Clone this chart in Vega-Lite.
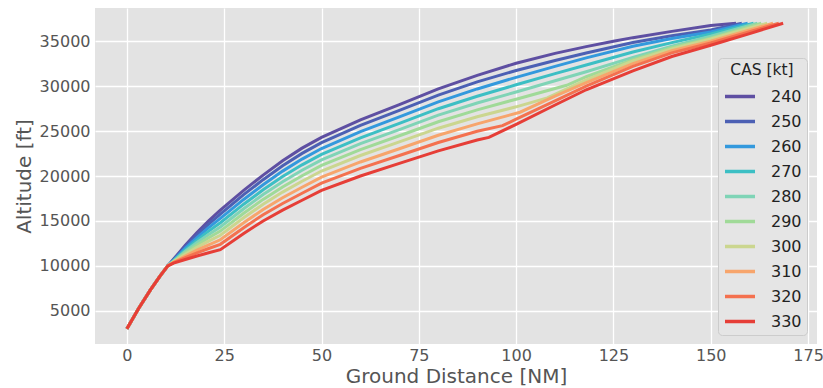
{
  "$schema": "https://vega.github.io/schema/vega-lite/v6.json",
  "width": 722,
  "height": 336,
  "autosize": {"type": "none"},
  "padding": {"left": 95, "top": 8, "right": 6, "bottom": 44},
  "background": "#ffffff",
  "config": {
    "view": {"stroke": null, "fill": "#e3e3e3"},
    "font": "DejaVu Sans",
    "axis": {
      "domain": false,
      "ticks": false,
      "grid": true,
      "gridColor": "#ffffff",
      "gridWidth": 1.3,
      "labelFont": "DejaVu Sans",
      "labelFontSize": 16,
      "labelColor": "#555555",
      "titleFont": "DejaVu Sans",
      "titleFontSize": 20,
      "titleFontWeight": "normal",
      "titleColor": "#555555"
    },
    "legend": {
      "labelFont": "DejaVu Sans",
      "titleFont": "DejaVu Sans"
    }
  },
  "data": {
    "values": [
      {"c":240,"d":0,"a":3000},{"c":240,"d":3,"a":5250},{"c":240,"d":6,"a":7300},{"c":240,"d":8.5,"a":8850},{"c":240,"d":10.5,"a":10000},{"c":240,"d":12,"a":10750},{"c":240,"d":15,"a":12300},{"c":240,"d":18,"a":13700},{"c":240,"d":21,"a":15000},{"c":240,"d":24,"a":16200},{"c":240,"d":30,"a":18400},{"c":240,"d":35,"a":20100},{"c":240,"d":40,"a":21700},{"c":240,"d":45,"a":23100},{"c":240,"d":50,"a":24300},{"c":240,"d":60,"a":26250},{"c":240,"d":70,"a":27950},{"c":240,"d":80,"a":29700},{"c":240,"d":90,"a":31200},{"c":240,"d":100,"a":32550},{"c":240,"d":110,"a":33650},{"c":240,"d":118,"a":34400},{"c":240,"d":125,"a":35000},{"c":240,"d":130,"a":35400},{"c":240,"d":140,"a":36100},{"c":240,"d":150,"a":36750},{"c":240,"d":156.5,"a":37000},
      {"c":250,"d":0,"a":3000},{"c":250,"d":3,"a":5250},{"c":250,"d":6,"a":7300},{"c":250,"d":8.5,"a":8850},{"c":250,"d":10.5,"a":10000},{"c":250,"d":12,"a":10660},{"c":250,"d":15,"a":12140},{"c":250,"d":18,"a":13440},{"c":250,"d":21,"a":14645},{"c":250,"d":24,"a":15760},{"c":250,"d":30,"a":17920},{"c":250,"d":35,"a":19590},{"c":250,"d":40,"a":21150},{"c":250,"d":45,"a":22520},{"c":250,"d":50,"a":23710},{"c":250,"d":60,"a":25625},{"c":250,"d":70,"a":27295},{"c":250,"d":80,"a":29010},{"c":250,"d":90,"a":30480},{"c":250,"d":100,"a":31750},{"c":250,"d":110,"a":32850},{"c":250,"d":118,"a":33700},{"c":250,"d":130,"a":34850},{"c":250,"d":140,"a":35600},{"c":250,"d":150,"a":36250},{"c":250,"d":158,"a":37000},
      {"c":260,"d":0,"a":3000},{"c":260,"d":3,"a":5250},{"c":260,"d":6,"a":7300},{"c":260,"d":8.5,"a":8850},{"c":260,"d":10.5,"a":10000},{"c":260,"d":12,"a":10616},{"c":260,"d":15,"a":11964},{"c":260,"d":18,"a":13154},{"c":260,"d":21,"a":14255},{"c":260,"d":24,"a":15276},{"c":260,"d":30,"a":17392},{"c":260,"d":35,"a":19029},{"c":260,"d":40,"a":20545},{"c":260,"d":45,"a":21882},{"c":260,"d":50,"a":23061},{"c":260,"d":60,"a":24938},{"c":260,"d":70,"a":26575},{"c":260,"d":80,"a":28250},{"c":260,"d":90,"a":29690},{"c":260,"d":100,"a":30980},{"c":260,"d":110,"a":32200},{"c":260,"d":118,"a":33150},{"c":260,"d":130,"a":34450},{"c":260,"d":140,"a":35300},{"c":260,"d":150,"a":36030},{"c":260,"d":159.5,"a":37000},
      {"c":270,"d":0,"a":3000},{"c":270,"d":3,"a":5250},{"c":270,"d":6,"a":7300},{"c":270,"d":8.5,"a":8850},{"c":270,"d":10.5,"a":10000},{"c":270,"d":12,"a":10572},{"c":270,"d":15,"a":11788},{"c":270,"d":18,"a":12868},{"c":270,"d":21,"a":13864},{"c":270,"d":24,"a":14792},{"c":270,"d":30,"a":16864},{"c":270,"d":35,"a":18468},{"c":270,"d":40,"a":19940},{"c":270,"d":45,"a":21244},{"c":270,"d":50,"a":22412},{"c":270,"d":60,"a":24250},{"c":270,"d":70,"a":25854},{"c":270,"d":80,"a":27490},{"c":270,"d":90,"a":28880},{"c":270,"d":100,"a":30150},{"c":270,"d":110,"a":31400},{"c":270,"d":118,"a":32350},{"c":270,"d":130,"a":33800},{"c":270,"d":140,"a":34850},{"c":270,"d":150,"a":35800},{"c":270,"d":161,"a":37000},
      {"c":280,"d":0,"a":3000},{"c":280,"d":3,"a":5250},{"c":280,"d":6,"a":7300},{"c":280,"d":8.5,"a":8850},{"c":280,"d":10.5,"a":10000},{"c":280,"d":12,"a":10530},{"c":280,"d":15,"a":11620},{"c":280,"d":18,"a":12595},{"c":280,"d":21,"a":13491},{"c":280,"d":24,"a":14330},{"c":280,"d":30,"a":16360},{"c":280,"d":35,"a":17933},{"c":280,"d":40,"a":19363},{"c":280,"d":45,"a":20635},{"c":280,"d":50,"a":21793},{"c":280,"d":60,"a":23594},{"c":280,"d":70,"a":25166},{"c":280,"d":80,"a":26770},{"c":280,"d":90,"a":28120},{"c":280,"d":100,"a":29350},{"c":280,"d":110,"a":30600},{"c":280,"d":118,"a":31600},{"c":280,"d":130,"a":33200},{"c":280,"d":140,"a":34450},{"c":280,"d":150,"a":35550},{"c":280,"d":162,"a":37000},
      {"c":290,"d":0,"a":3000},{"c":290,"d":3,"a":5250},{"c":290,"d":6,"a":7300},{"c":290,"d":8.5,"a":8850},{"c":290,"d":10.5,"a":10000},{"c":290,"d":12,"a":10488},{"c":290,"d":15,"a":11452},{"c":290,"d":18,"a":12322},{"c":290,"d":21,"a":13119},{"c":290,"d":24,"a":13868},{"c":290,"d":30,"a":15856},{"c":290,"d":35,"a":17397},{"c":290,"d":40,"a":18785},{"c":290,"d":45,"a":20026},{"c":290,"d":50,"a":21173},{"c":290,"d":60,"a":22938},{"c":290,"d":70,"a":24479},{"c":290,"d":80,"a":26040},{"c":290,"d":90,"a":27360},{"c":290,"d":100,"a":28550},{"c":290,"d":113,"a":30100},{"c":290,"d":118,"a":31050},{"c":290,"d":130,"a":32950},{"c":290,"d":140,"a":34300},{"c":290,"d":150,"a":35350},{"c":290,"d":163,"a":37000},
      {"c":300,"d":0,"a":3000},{"c":300,"d":3,"a":5250},{"c":300,"d":6,"a":7300},{"c":300,"d":8.5,"a":8850},{"c":300,"d":10.5,"a":10000},{"c":300,"d":12,"a":10446},{"c":300,"d":15,"a":11284},{"c":300,"d":18,"a":12049},{"c":300,"d":21,"a":12746},{"c":300,"d":24,"a":13406},{"c":300,"d":30,"a":15352},{"c":300,"d":35,"a":16862},{"c":300,"d":40,"a":18208},{"c":300,"d":45,"a":19417},{"c":300,"d":50,"a":20554},{"c":300,"d":60,"a":22281},{"c":300,"d":70,"a":23791},{"c":300,"d":80,"a":25320},{"c":300,"d":90,"a":26600},{"c":300,"d":100,"a":27700},{"c":300,"d":108,"a":28700},{"c":300,"d":118,"a":30700},{"c":300,"d":130,"a":32800},{"c":300,"d":140,"a":34150},{"c":300,"d":150,"a":35250},{"c":300,"d":164.5,"a":37000},
      {"c":310,"d":0,"a":3000},{"c":310,"d":3,"a":5250},{"c":310,"d":6,"a":7300},{"c":310,"d":8.5,"a":8850},{"c":310,"d":10.5,"a":10000},{"c":310,"d":12,"a":10400},{"c":310,"d":15,"a":11100},{"c":310,"d":18,"a":11750},{"c":310,"d":21,"a":12338},{"c":310,"d":24,"a":12900},{"c":310,"d":30,"a":14800},{"c":310,"d":35,"a":16275},{"c":310,"d":40,"a":17575},{"c":310,"d":45,"a":18750},{"c":310,"d":50,"a":19875},{"c":310,"d":60,"a":21563},{"c":310,"d":70,"a":23038},{"c":310,"d":80,"a":24530},{"c":310,"d":90,"a":25800},{"c":310,"d":101,"a":27100},{"c":310,"d":110,"a":28900},{"c":310,"d":118,"a":30400},{"c":310,"d":130,"a":32500},{"c":310,"d":140,"a":33950},{"c":310,"d":150,"a":35000},{"c":310,"d":166,"a":37000},
      {"c":320,"d":0,"a":3000},{"c":320,"d":3,"a":5250},{"c":320,"d":6,"a":7300},{"c":320,"d":8.5,"a":8850},{"c":320,"d":10.5,"a":10000},{"c":320,"d":12,"a":10354},{"c":320,"d":15,"a":10916},{"c":320,"d":18,"a":11451},{"c":320,"d":21,"a":11929},{"c":320,"d":24,"a":12394},{"c":320,"d":30,"a":14248},{"c":320,"d":35,"a":15689},{"c":320,"d":40,"a":16943},{"c":320,"d":45,"a":18083},{"c":320,"d":50,"a":19197},{"c":320,"d":60,"a":20844},{"c":320,"d":70,"a":22284},{"c":320,"d":80,"a":23730},{"c":320,"d":90,"a":24980},{"c":320,"d":96.5,"a":25600},{"c":320,"d":100,"a":26330},{"c":320,"d":110,"a":28350},{"c":320,"d":118,"a":30000},{"c":320,"d":130,"a":32200},{"c":320,"d":140,"a":33700},{"c":320,"d":150,"a":34800},{"c":320,"d":167.5,"a":37000},
      {"c":330,"d":0,"a":3000},{"c":330,"d":3,"a":5250},{"c":330,"d":6,"a":7300},{"c":330,"d":8.5,"a":8850},{"c":330,"d":10.5,"a":10000},{"c":330,"d":12,"a":10300},{"c":330,"d":15,"a":10700},{"c":330,"d":18,"a":11100},{"c":330,"d":21,"a":11450},{"c":330,"d":24,"a":11800},{"c":330,"d":30,"a":13600},{"c":330,"d":35,"a":15000},{"c":330,"d":40,"a":16200},{"c":330,"d":45,"a":17300},{"c":330,"d":50,"a":18400},{"c":330,"d":60,"a":20000},{"c":330,"d":70,"a":21400},{"c":330,"d":80,"a":22800},{"c":330,"d":90,"a":24000},{"c":330,"d":93,"a":24300},{"c":330,"d":100,"a":25750},{"c":330,"d":110,"a":27900},{"c":330,"d":118,"a":29600},{"c":330,"d":130,"a":31700},{"c":330,"d":140,"a":33300},{"c":330,"d":150,"a":34550},{"c":330,"d":160,"a":35850},{"c":330,"d":168.6,"a":37000}
    ]
  },
  "mark": {"type": "line", "strokeWidth": 3, "clip": true},
  "encoding": {
    "x": {
      "field": "d", "type": "quantitative",
      "title": "Ground Distance [NM]",
      "scale": {"domain": [-8.2, 177.3], "nice": false, "zero": false},
      "axis": {"values": [0, 25, 50, 75, 100, 125, 150, 175], "labelPadding": 3, "titlePadding": 3}
    },
    "y": {
      "field": "a", "type": "quantitative",
      "title": "Altitude [ft]",
      "scale": {"domain": [1300, 38700], "nice": false, "zero": false},
      "axis": {"values": [5000, 10000, 15000, 20000, 25000, 30000, 35000], "format": "d", "labelPadding": 5, "titlePadding": 5}
    },
    "color": {
      "field": "c", "type": "ordinal",
      "title": "CAS [kt]",
      "scale": {
        "domain": [240, 250, 260, 270, 280, 290, 300, 310, 320, 330],
        "range": ["#5e4fa2", "#4c60b4", "#3399dd", "#3cbfc4", "#7fd4b6", "#a0da98", "#cbd68f", "#f7a56c", "#f4714f", "#e63e37"]
      },
      "legend": {
        "orient": "none",
        "legendX": 623,
        "legendY": 50,
        "fillColor": "#e5e5e5",
        "strokeColor": "#cccccc",
        "cornerRadius": 4,
        "padding": 5,
        "titleFontSize": 15.5,
        "titleFontWeight": "normal",
        "titleColor": "#222222",
        "titleAnchor": "middle",
        "titlePadding": 1,
        "labelFontSize": 16,
        "labelColor": "#222222",
        "labelOffset": 14,
        "symbolType": "stroke",
        "symbolSize": 900,
        "symbolStrokeWidth": 3.5,
        "rowPadding": 0
      }
    }
  }
}
